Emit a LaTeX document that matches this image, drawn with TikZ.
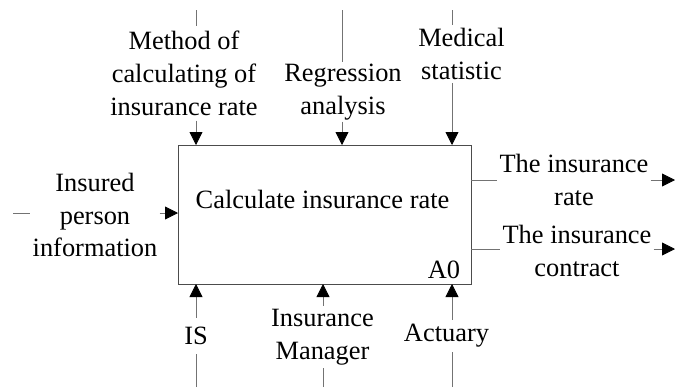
\documentclass[tikz,border=0pt]{standalone}
\usepackage{fontspec}
\setmainfont{Liberation Serif}
\usetikzlibrary{arrows.meta}
\begin{document}
\begin{tikzpicture}[x=1bp,y=-1bp,
  lbl/.style={font=\fontsize{26.5}{33}\selectfont, align=center, inner xsep=2bp, inner ysep=3bp, text=black},
  conn/.style={draw=black!55, line width=0.8bp},
  arr/.style={conn, -{Triangle[length=13bp,width=13bp,color=black]}},
  boxst/.style={draw=black!70, line width=1bp, minimum width=293bp, minimum height=139bp, inner sep=0pt, anchor=north west}
  ]
\useasboundingbox (0,0) rectangle (675,387);
% activity box
\node[boxst] (box) at (178,145) {};
\node[lbl] (boxlbl) at (322.5,199) {Calculate insurance rate};
\node[lbl] (a0) at (444,270) {A0};

% controls (top)
\coordinate (t1s) at (196,10);  \coordinate (t1e) at (196,145);
\coordinate (t2s) at (342,10);  \coordinate (t2e) at (342,145);
\coordinate (t3s) at (452,10);  \coordinate (t3e) at (452,145);
\node[lbl, inner ysep=5bp] (mlab) at (184,73) {Method of\\calculating of\\insurance rate};
\node[lbl, inner ysep=1.5bp] (rglab) at (343,92) {Regression\\analysis};
\node[lbl] (mdlab) at (461.5,54) {Medical\\statistic};
\draw[conn] (t1s) -- (t1s |- mlab.north);
\draw[arr] (t1e |- mlab.south) -- (t1e);
\draw[conn] (t2s) -- (t2s |- rglab.north);
\draw[arr] (t2e |- rglab.south) -- (t2e);
\draw[conn] (t3s) -- (t3s |- mdlab.north);
\draw[arr] (t3e |- mdlab.south) -- (t3e);

% input (left)
\coordinate (ins) at (13,213); \coordinate (ine) at (178,213);
\node[lbl] (ilab) at (95,215) {Insured\\person\\information};
\draw[conn] (ins) -- (ins -| ilab.west);
\draw[arr] (ine -| ilab.east) -- (ine);

% outputs (right)
\coordinate (o1s) at (471,180); \coordinate (o1e) at (675,180);
\coordinate (o2s) at (471,249); \coordinate (o2e) at (675,249);
\node[lbl] (o1lab) at (574,180) {The insurance\\rate};
\node[lbl] (o2lab) at (577,251) {The insurance\\contract};
\draw[conn] (o1s) -- (o1s -| o1lab.west);
\draw[arr] (o1e -| o1lab.east) -- (o1e);
\draw[conn] (o2s) -- (o2s -| o2lab.west);
\draw[arr] (o2e -| o2lab.east) -- (o2e);

% mechanisms (bottom)
\coordinate (b1s) at (196,387); \coordinate (b1e) at (196,284);
\coordinate (b2s) at (323,387); \coordinate (b2e) at (323,284);
\coordinate (b3s) at (452,387); \coordinate (b3e) at (452,284);
\node[lbl, inner ysep=9bp] (islab) at (196,336) {IS};
\node[lbl] (mglab) at (322.5,337) {Insurance\\Manager};
\node[lbl, inner ysep=4.5bp] (aclab) at (446.5,336) {Actuary};
\draw[conn] (b1s) -- (b1s |- islab.south);
\draw[arr] (b1e |- islab.north) -- (b1e);
\draw[conn] (b2s) -- (b2s |- mglab.south);
\draw[arr] (b2e |- mglab.north) -- (b2e);
\draw[conn] (b3s) -- (b3s |- aclab.south);
\draw[arr] (b3e |- aclab.north) -- (b3e);
\end{tikzpicture}
\end{document}
